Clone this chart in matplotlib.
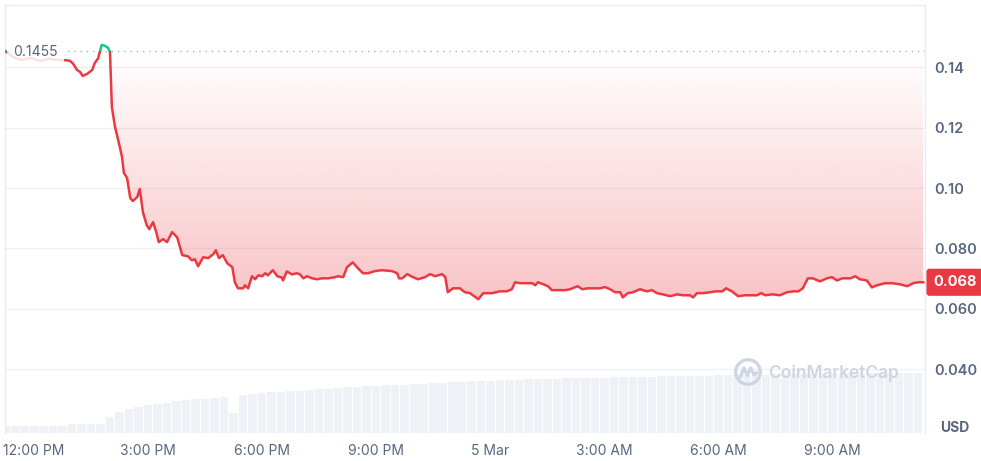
import numpy as np
import pandas as pd
import matplotlib
matplotlib.use('Agg')
import matplotlib.pyplot as plt
import matplotlib.dates as mdates
import matplotlib.transforms as mtransforms
from matplotlib.patches import Rectangle, Circle

plt.rcParams['font.family'] = ['Inter', 'DejaVu Sans']

#%% data

times = ['11:14', '11:27', '11:41', '11:54', '12:10', '12:25', '12:38', '12:51', '12:57', '13:02',
         '13:08', '13:13', '13:17', '13:24', '13:32', '13:36', '13:41', '13:47', '13:52', '13:57',
         '14:00', '14:03', '14:08', '14:13', '14:19', '14:22', '14:27', '14:32', '14:36', '14:43',
         '14:47', '14:52', '14:58', '15:02', '15:08', '15:13', '15:17', '15:24', '15:30', '15:38',
         '15:46', '15:54', '16:03', '16:09', '16:14', '16:19', '16:27', '16:35', '16:43', '16:47',
         '16:52', '16:58', '17:05', '17:13', '17:17', '17:22', '17:30', '17:33', '17:38', '17:44',
         '17:49', '17:54', '18:00', '18:05', '18:09', '18:17', '18:24', '18:31', '18:33', '18:39',
         '18:47', '18:55', '19:00', '19:05', '19:11', '19:19', '19:27', '19:34', '19:44', '19:55',
         '20:00', '20:08', '20:14', '20:23', '20:31', '20:39', '20:47', '20:58', '21:09', '21:25',
         '21:33', '21:36', '21:41', '21:49', '21:58', '22:06', '22:17', '22:25', '22:33', '22:44',
         '22:49', '22:53', '23:01', '23:12', '23:20', '23:28', '23:41', '23:49', '00:03', '00:15',
         '00:26', '00:34', '00:39', '00:47', '00:58', '01:06', '01:11', '01:15', '01:23', '01:31',
         '01:37', '01:47', '01:58', '02:06', '02:14', '02:18', '02:25', '02:34', '02:45', '02:53',
         '03:01', '03:09', '03:17', '03:25', '03:29', '03:37', '03:45', '03:56', '04:07', '04:15',
         '04:23', '04:32', '04:44', '04:55', '05:04', '05:15', '05:20', '05:26', '05:36', '05:47',
         '05:55', '06:06', '06:12', '06:21', '06:31', '06:42', '06:53', '07:01', '07:07', '07:14',
         '07:25', '07:37', '07:48', '07:58', '08:06', '08:13', '08:21', '08:29', '08:40', '08:51',
         '08:59', '09:07', '09:15', '09:28', '09:36', '09:43', '09:54', '10:02', '10:10', '10:23',
         '10:34', '10:47', '10:58', '11:07', '11:15', '11:23']

price = [0.1455, 0.1434, 0.1424, 0.1431, 0.1421, 0.1428, 0.1424, 0.1423, 0.1421, 0.1411,
         0.1391, 0.1384, 0.1371, 0.1378, 0.1391, 0.1414, 0.1428, 0.1474, 0.1471, 0.1464,
         0.1451, 0.1268, 0.1202, 0.1159, 0.1103, 0.1050, 0.1033, 0.0967, 0.0957, 0.0970,
         0.0997, 0.0920, 0.0877, 0.0864, 0.0887, 0.0854, 0.0821, 0.0831, 0.0821, 0.0854,
         0.0837, 0.0778, 0.0774, 0.0761, 0.0764, 0.0741, 0.0771, 0.0768, 0.0781, 0.0794,
         0.0768, 0.0778, 0.0751, 0.0738, 0.0688, 0.0668, 0.0668, 0.0678, 0.0668, 0.0708,
         0.0698, 0.0711, 0.0708, 0.0718, 0.0711, 0.0728, 0.0708, 0.0704, 0.0694, 0.0724,
         0.0714, 0.0718, 0.0714, 0.0701, 0.0708, 0.0701, 0.0698, 0.0701, 0.0701, 0.0705,
         0.0708, 0.0705, 0.0738, 0.0754, 0.0735, 0.0718, 0.0718, 0.0725, 0.0728, 0.0725,
         0.0718, 0.0701, 0.0701, 0.0715, 0.0705, 0.0698, 0.0705, 0.0715, 0.0708, 0.0715,
         0.0705, 0.0655, 0.0668, 0.0668, 0.0655, 0.0652, 0.0632, 0.0652, 0.0652, 0.0658,
         0.0658, 0.0665, 0.0688, 0.0685, 0.0685, 0.0685, 0.0678, 0.0688, 0.0682, 0.0675,
         0.0662, 0.0662, 0.0662, 0.0665, 0.0672, 0.0675, 0.0665, 0.0668, 0.0668, 0.0668,
         0.0672, 0.0665, 0.0655, 0.0655, 0.0638, 0.0652, 0.0655, 0.0665, 0.0658, 0.0662,
         0.0652, 0.0648, 0.0642, 0.0648, 0.0645, 0.0645, 0.0638, 0.0652, 0.0652, 0.0655,
         0.0658, 0.0658, 0.0668, 0.0658, 0.0642, 0.0645, 0.0645, 0.0645, 0.0652, 0.0645,
         0.0648, 0.0645, 0.0655, 0.0658, 0.0658, 0.0668, 0.0701, 0.0701, 0.0691, 0.0701,
         0.0705, 0.0694, 0.0701, 0.0701, 0.0708, 0.0698, 0.0694, 0.0671, 0.0678, 0.0685,
         0.0685, 0.0681, 0.0675, 0.0685, 0.0688, 0.0688]

# 15 min volume bars, starting 11:15 on 4 Mar
volume = [140, 140, 140, 140, 140, 140, 140, 180, 180, 180,
          180, 320, 420, 480, 520, 550, 580, 600, 630, 650,
          670, 680, 700, 710, 400, 760, 780, 800, 810, 820,
          830, 840, 860, 870, 880, 900, 910, 920, 940, 940,
          950, 960, 960, 980, 980, 1000, 1000, 1020, 1020, 1030,
          1040, 1040, 1050, 1060, 1060, 1070, 1070, 1080, 1080, 1090,
          1090, 1100, 1100, 1100, 1110, 1110, 1120, 1120, 1120, 1130,
          1130, 1130, 1140, 1140, 1140, 1150, 1150, 1150, 1160, 1160,
          1160, 1170, 1170, 1170, 1170, 1180, 1180, 1180, 1180, 1190,
          1190, 1190, 1190, 1200, 1200, 1200, 1200]

open_price = 0.1455
ytick_vals = [0.14, 0.12, 0.10, 0.080, 0.060, 0.040]
ytick_labels = ['0.14', '0.12', '0.10', '0.080', '0.060', '0.040']
xtick_times = ['2024-03-04 12:00', '2024-03-04 15:00', '2024-03-04 18:00', '2024-03-04 21:00',
               '2024-03-05 00:00', '2024-03-05 03:00', '2024-03-05 06:00', '2024-03-05 09:00']
xtick_labels = ['12:00 PM', '3:00 PM', '6:00 PM', '9:00 PM', '5 Mar', '3:00 AM', '6:00 AM', '9:00 AM']

#%% build timestamps (roll over to next day after midnight)

day0 = pd.Timestamp('2024-03-04')
stamps = []
extra = 0
prev = None
for s in times:
    td = pd.Timedelta(hours=int(s[:2]), minutes=int(s[3:]))
    if prev is not None and td + pd.Timedelta(days=extra) < prev:
        extra += 1
    stamps.append(day0 + td + pd.Timedelta(days=extra))
    prev = td + pd.Timedelta(days=extra)
t = mdates.date2num(stamps)
p = np.array(price)

vol_t = mdates.date2num(pd.date_range('2024-03-04 11:15', periods=len(volume), freq='15min'))
xmin = mdates.date2num(pd.Timestamp('2024-03-04 11:14:24'))
xmax = mdates.date2num(pd.Timestamp('2024-03-05 11:25:48'))
ymin, ymax = 0.0189, 0.1606

red = '#ea3943'
green = '#16c784'
grey_txt = '#58667e'

#%% figure

fig = plt.figure(figsize=(9.81, 4.61), dpi=100)
rect = [5/981, 28/461, 920/981, 428/461]
axv = fig.add_axes(rect)
ax = fig.add_axes(rect, sharex=axv)
ax.patch.set_visible(False)

# volume
axv.bar(vol_t, volume, width=15/1440*0.9, color='#eef1f5', align='center', zorder=1)
axv.set_ylim(0, max(volume) * 7.1)
axv.set_yticks([])
for sp in axv.spines.values():
    sp.set_visible(False)
axv.tick_params(axis='x', length=0, labelbottom=False)

# grid
for v in ytick_vals:
    ax.axhline(v, color='#eff2f5', lw=1, zorder=0)

# gradient fill between the price and the open price
poly = ax.fill_between(t, np.minimum(p, open_price), open_price, color='none', lw=0)
grad = np.zeros((256, 1, 4))
grad[:, 0, :3] = matplotlib.colors.to_rgb(red)
grad[:, 0, 3] = np.linspace(0.30, 0.0, 256)
im = ax.imshow(grad, extent=[xmin, xmax, 0.063, open_price], origin='lower',
               aspect='auto', zorder=1, interpolation='bicubic')
im.set_clip_path(poly.get_paths()[0], transform=ax.transData)

# price line, green above open price, red below
up = Rectangle((xmin, open_price), xmax - xmin, 1, transform=ax.transData)
dn = Rectangle((xmin, 0), xmax - xmin, open_price, transform=ax.transData)
l1, = ax.plot(t, p, color=red, lw=1.8, zorder=3, solid_joinstyle='round')
l1.set_clip_path(dn)
l2, = ax.plot(t, p, color=green, lw=1.8, zorder=3, solid_joinstyle='round')
l2.set_clip_path(up)

ax.axhline(open_price, color='#a6b0c3', lw=1, ls=(0, (1, 3.5)), zorder=2)
ax.text(0.009, open_price - 0.0003, '0.1455',
        transform=mtransforms.blended_transform_factory(ax.transAxes, ax.transData),
        ha='left', va='center', fontsize=10, color=grey_txt, zorder=4,
        bbox=dict(boxstyle='square,pad=0.45', fc='white', ec='none', alpha=0.85))

ax.set_xlim(xmin, xmax)
ax.set_ylim(ymin, ymax)

ax.yaxis.tick_right()
ax.set_yticks(ytick_vals)
ax.set_yticklabels(ytick_labels)
ax.tick_params(axis='y', length=0, pad=7, labelsize=10.5, labelcolor=grey_txt)
ax.set_xticks(mdates.date2num(pd.to_datetime(xtick_times)))
ax.set_xticklabels(xtick_labels)
ax.tick_params(axis='x', length=0, pad=8, labelsize=10, labelcolor=grey_txt)
for lab in ax.get_yticklabels():
    lab.set_fontweight('semibold')

for sp in ['left', 'top', 'right']:
    ax.spines[sp].set_color('#e8ebf0')
    ax.spines[sp].set_linewidth(1)
ax.spines['bottom'].set_visible(False)

# last price tag
last = np.floor(p[-1] * 1000) / 1000
ax.text(1 + 8/920, p[-1], f'{last:.3f}',
        transform=mtransforms.blended_transform_factory(ax.transAxes, ax.transData),
        ha='left', va='center', fontsize=10.5, fontweight='bold', color='white', zorder=5,
        bbox=dict(boxstyle='round,pad=0.45,rounding_size=0.2', fc=red, ec='none'), clip_on=False)

fig.text(940/981, 1 - 428/461, 'USD', ha='left', va='center', fontsize=10,
         fontweight='bold', color=grey_txt)

# watermark
wm = '#cfd6e3'
fig.text(768/981, 1 - 373/461, 'CoinMarketCap', ha='left', va='center', fontsize=12.5,
         fontweight='semibold', color=wm, zorder=6)
axl = fig.add_axes([733/981, 1 - 387/461, 30/981, 30/461])
axl.set_xlim(-1.1, 1.1)
axl.set_ylim(-1.1, 1.1)
axl.set_aspect('equal')
axl.axis('off')
axl.add_patch(Circle((0, 0), 0.9, fill=False, ec=wm, lw=2.4))
axl.plot([-0.55, -0.3, -0.05, 0.2, 0.45, 0.65], [-0.35, 0.3, -0.25, 0.3, -0.2, -0.05],
         color=wm, lw=2.4, solid_joinstyle='round', solid_capstyle='round')

plt.savefig('out.png', dpi=100)
